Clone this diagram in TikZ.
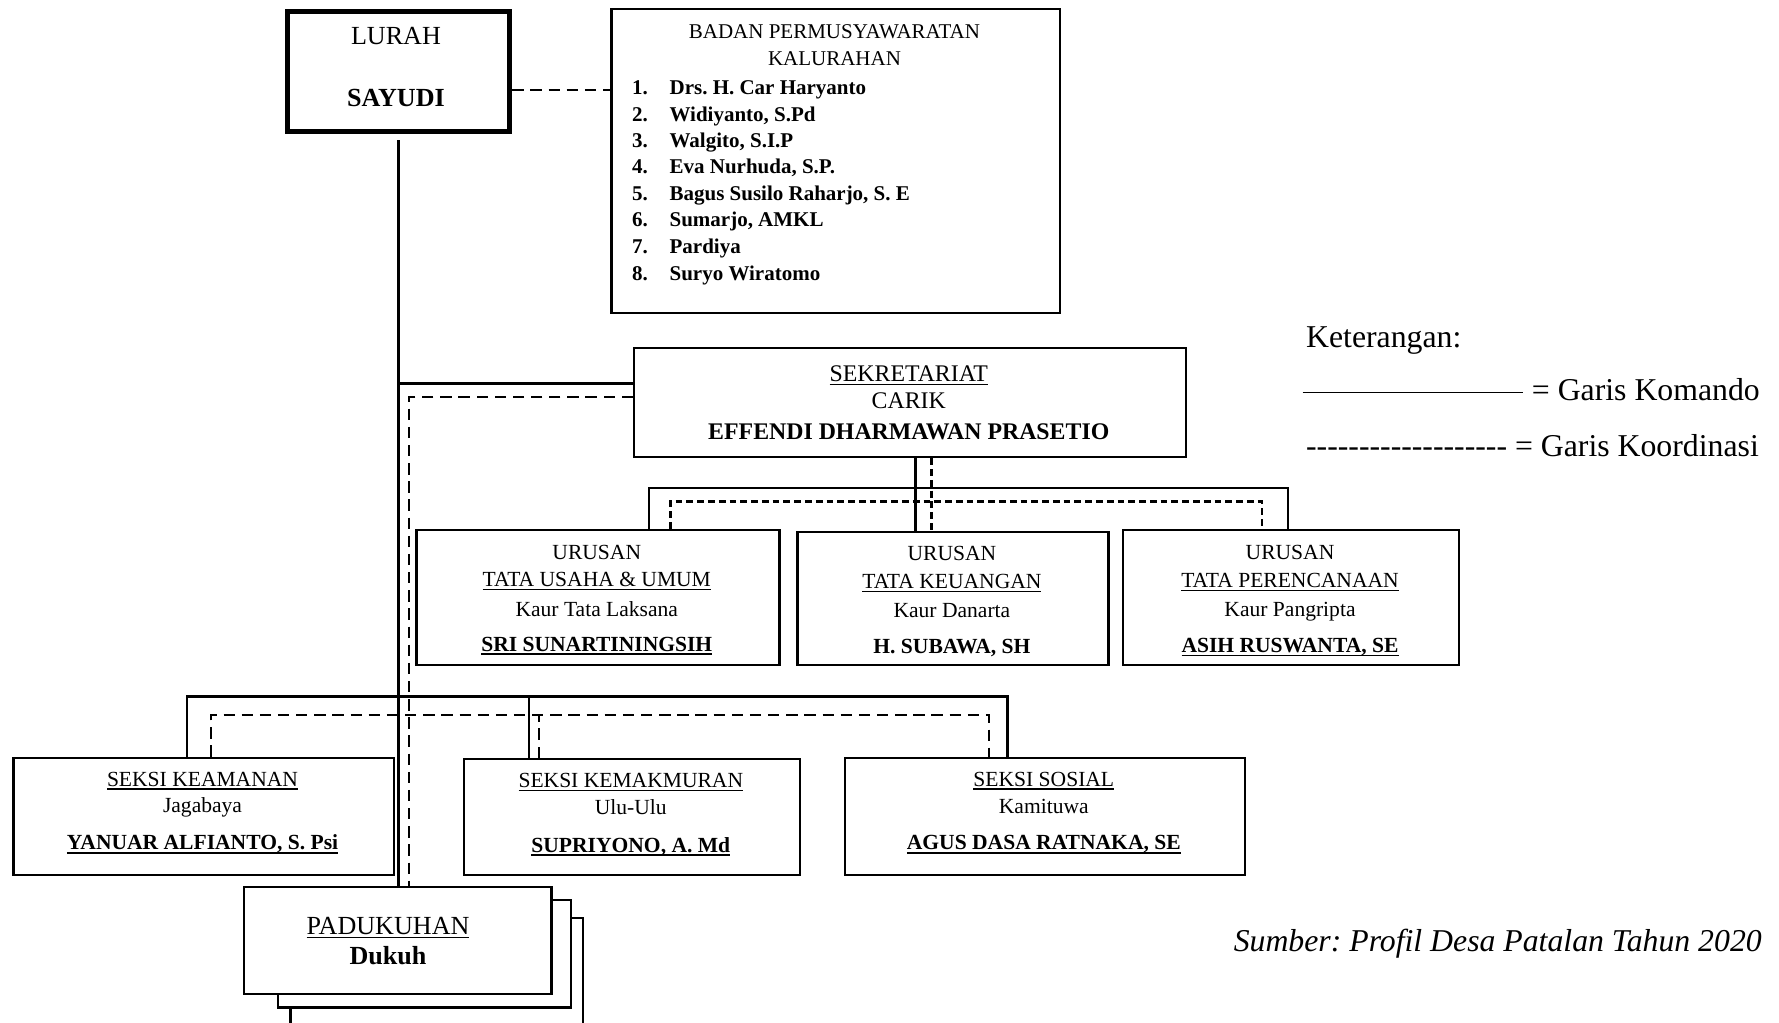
\documentclass[tikz,border=0pt]{standalone}
\usepackage{fontspec}
\setmainfont{Liberation Serif}
\newcommand\szL{\fontsize{23}{27}\selectfont}
\newcommand\szB{\fontsize{18.5}{22}\selectfont}
\newcommand\szS{\fontsize{21}{25}\selectfont}
\newcommand\szU{\fontsize{19}{23}\selectfont}
\newcommand\szK{\fontsize{28}{33}\selectfont}
\newsavebox\myulbox
\newcommand\myul[1]{\leavevmode\sbox\myulbox{#1}\rlap{\vrule width\wd\myulbox height -0.10em depth 0.16em}\usebox\myulbox}
\newcommand\myulb[1]{\leavevmode\sbox\myulbox{#1}\rlap{\vrule width\wd\myulbox height -0.10em depth 0.19em}\usebox\myulbox}
\frenchspacing
\tikzset{
  box/.style={draw, line width=2pt, fill=white, inner sep=0pt, anchor=north west},
  cmd/.style={line width=2pt},
  koor/.style={line width=2pt, dash pattern=on 10pt off 6pt},
  koorf/.style={line width=2pt, dash pattern=on 6pt off 3.5pt},
  t/.style={anchor=base, inner sep=0pt},
  tw/.style={anchor=base west, inner sep=0pt},
}
\begin{document}
\begin{tikzpicture}[x=1pt,y=-1pt]
\useasboundingbox (0,0) rectangle (1568,901);

% boxes
\node[box, line width=4.5pt, minimum width=196, minimum height=106] (lurah) at (251,8) {};
\node[box, minimum width=395, minimum height=268] (bpk) at (538,7) {};
\node[box, minimum width=486, minimum height=96] (sek) at (558,306) {};
\node[box, minimum width=320, minimum height=119] (ur1) at (366,466) {};
\node[box, minimum width=274, minimum height=117] (ur2) at (702,468) {};
\node[box, minimum width=296, minimum height=119] (ur3) at (989,466) {};
\node[box, minimum width=335, minimum height=103] (sk1) at (11,667) {};
\node[box, minimum width=296, minimum height=102] (sk2) at (408,668) {};
\node[box, minimum width=352, minimum height=103] (sk3) at (744,667) {};
\node[box, minimum width=258, minimum height=130] (pad3) at (255,808) {};
\node[box, minimum width=258, minimum height=95] (pad2) at (244,792) {};
\node[box, minimum width=271, minimum height=94] (pad1) at (214,781) {};

% connectors
\draw[cmd] ([yshift=-5pt]lurah.south) -- (lurah.south |- pad1.north);
\draw[koor] ([yshift=-16pt]lurah.east) -- ([yshift=-16pt]lurah.east -| bpk.west);
\draw[cmd] ([yshift=17pt]sek.west) -- ([yshift=17pt]sek.west -| lurah.south);
\draw[koor] ([yshift=5pt]sek.west) -| ([xshift=9pt]lurah.south |- pad1.north);
\draw[cmd] ([xshift=5pt]sek.south) -- ([xshift=5pt]sek.south |- ur2.north);
\draw[koorf] ([xshift=19pt]sek.south) -- ([xshift=19pt]sek.south |- ur2.north);
\draw[cmd] ([xshift=45pt]ur1.north) -- ++(0,-36) -| ([xshift=-3pt]ur3.north);
\draw[koorf] ([xshift=64pt]ur1.north) -- ++(0,-24) -| ([xshift=-26pt]ur3.north);
\draw[cmd] ([xshift=-14.5pt]sk1.north) -- ++(0,-53) coordinate (skL) -| ([xshift=-33pt]sk3.north);
\draw[cmd] ([xshift=-91pt]sk2.north) -- ([xshift=-91pt]sk2.north |- skL);
\draw[koor] ([xshift=6.5pt]sk1.north) -- ++(0,-37) coordinate (skD) -| ([xshift=-49pt]sk3.north);
\draw[koor] ([xshift=-82pt]sk2.north) -- ([xshift=-82pt]sk2.north |- skD);

% LURAH
\node[t] (lurahA) at (349,39) {\szL LURAH};
\node[t] (lurahB) at (349,94) {\szL\bfseries SAYUDI};

% BPK
\node[t] (bpkA) at (735.5,34) {\szB BADAN PERMUSYAWARATAN};
\node[t] (bpkB) at (735.5,58) {\szB KALURAHAN};
\foreach \n/\name/\yy in {1/Drs. H. Car Haryanto/83, 2/{Widiyanto, S.Pd}/107, 3/{Walgito, S.I.P}/130, 4/{Eva Nurhuda, S.P.}/153, 5/{Bagus Susilo Raharjo, S. E}/177, 6/{Sumarjo, AMKL}/200, 7/Pardiya/223, 8/Suryo Wiratomo/247}{
  \node[tw] (bpkn\n) at (557,\yy) {\szB\bfseries \n.};
  \node[tw] (bpkm\n) at (590,\yy) {\szB\bfseries \name};
}

% Sekretariat
\node[t] (sekA) at (801,336) {\szS\myul{SEKRETARIAT}};
\node[t] (sekB) at (801,360) {\szS CARIK};
\node[t] (sekC) at (801,387) {\szS\bfseries EFFENDI DHARMAWAN PRASETIO};

% Urusan
\node[t] (ur1A) at (526,493) {\szU URUSAN};
\node[t] (ur1B) at (526,517) {\szU\myul{TATA USAHA \& UMUM}};
\node[t] (ur1C) at (526,543.5) {\szU Kaur Tata Laksana};
\node[t] (ur1D) at (526,574) {\szU\bfseries\myulb{SRI SUNARTININGSIH}};

\node[t] (ur2A) at (839,494) {\szU URUSAN};
\node[t] (ur2B) at (839,519) {\szU\myul{TATA KEUANGAN}};
\node[t] (ur2C) at (839,544) {\szU Kaur Danarta};
\node[t] (ur2D) at (839,576) {\szU\bfseries H. SUBAWA, SH};

\node[t] (ur3A) at (1137,493) {\szU URUSAN};
\node[t] (ur3B) at (1137,518) {\szU\myul{TATA PERENCANAAN}};
\node[t] (ur3C) at (1137,543) {\szU Kaur Pangripta};
\node[t] (ur3D) at (1137,575) {\szU\bfseries\myulb{ASIH RUSWANTA, SE}};

% Seksi
\node[t] (sk1A) at (178.5,693) {\szU\myul{SEKSI KEAMANAN}};
\node[t] (sk1B) at (178.5,716.5) {\szU Jagabaya};
\node[t] (sk1C) at (178.5,749) {\szU\bfseries\myulb{YANUAR ALFIANTO, S. Psi}};

\node[t] (sk2A) at (556,694) {\szU\myul{SEKSI KEMAKMURAN}};
\node[t] (sk2B) at (556,718) {\szU Ulu-Ulu};
\node[t] (sk2C) at (556,751) {\szU\bfseries\myulb{SUPRIYONO, A. Md}};

\node[t] (sk3A) at (920,693) {\szU\myul{SEKSI SOSIAL}};
\node[t] (sk3B) at (920,717) {\szU Kamituwa};
\node[t] (sk3C) at (920,749) {\szU\bfseries\myulb{AGUS DASA RATNAKA, SE}};

% Padukuhan
\node[t] (padA) at (342,823.5) {\szL\myul{PADUKUHAN}};
\node[t] (padB) at (342,850.5) {\szL\bfseries Dukuh};

% Legend
\node[tw] (ket) at (1151,306) {\szK Keterangan:};
\coordinate (lgA) at (1148,346);
\coordinate (lgB) at (1342,346);
\draw[line width=1.6pt] (lgA) -- (lgB);
\node[tw] (lgK) at (1350,353) {\szK = Garis Komando};
\node[tw] (lgD) at (1151,402) {\szK\foreach \i in {1,...,19}{-\kern0pt} = Garis Koordinasi};

% Source
\node[anchor=base east, inner sep=0pt] (src) at (1553,839) {\szK\itshape Sumber: Profil Desa Patalan Tahun 2020};
\end{tikzpicture}
\end{document}
